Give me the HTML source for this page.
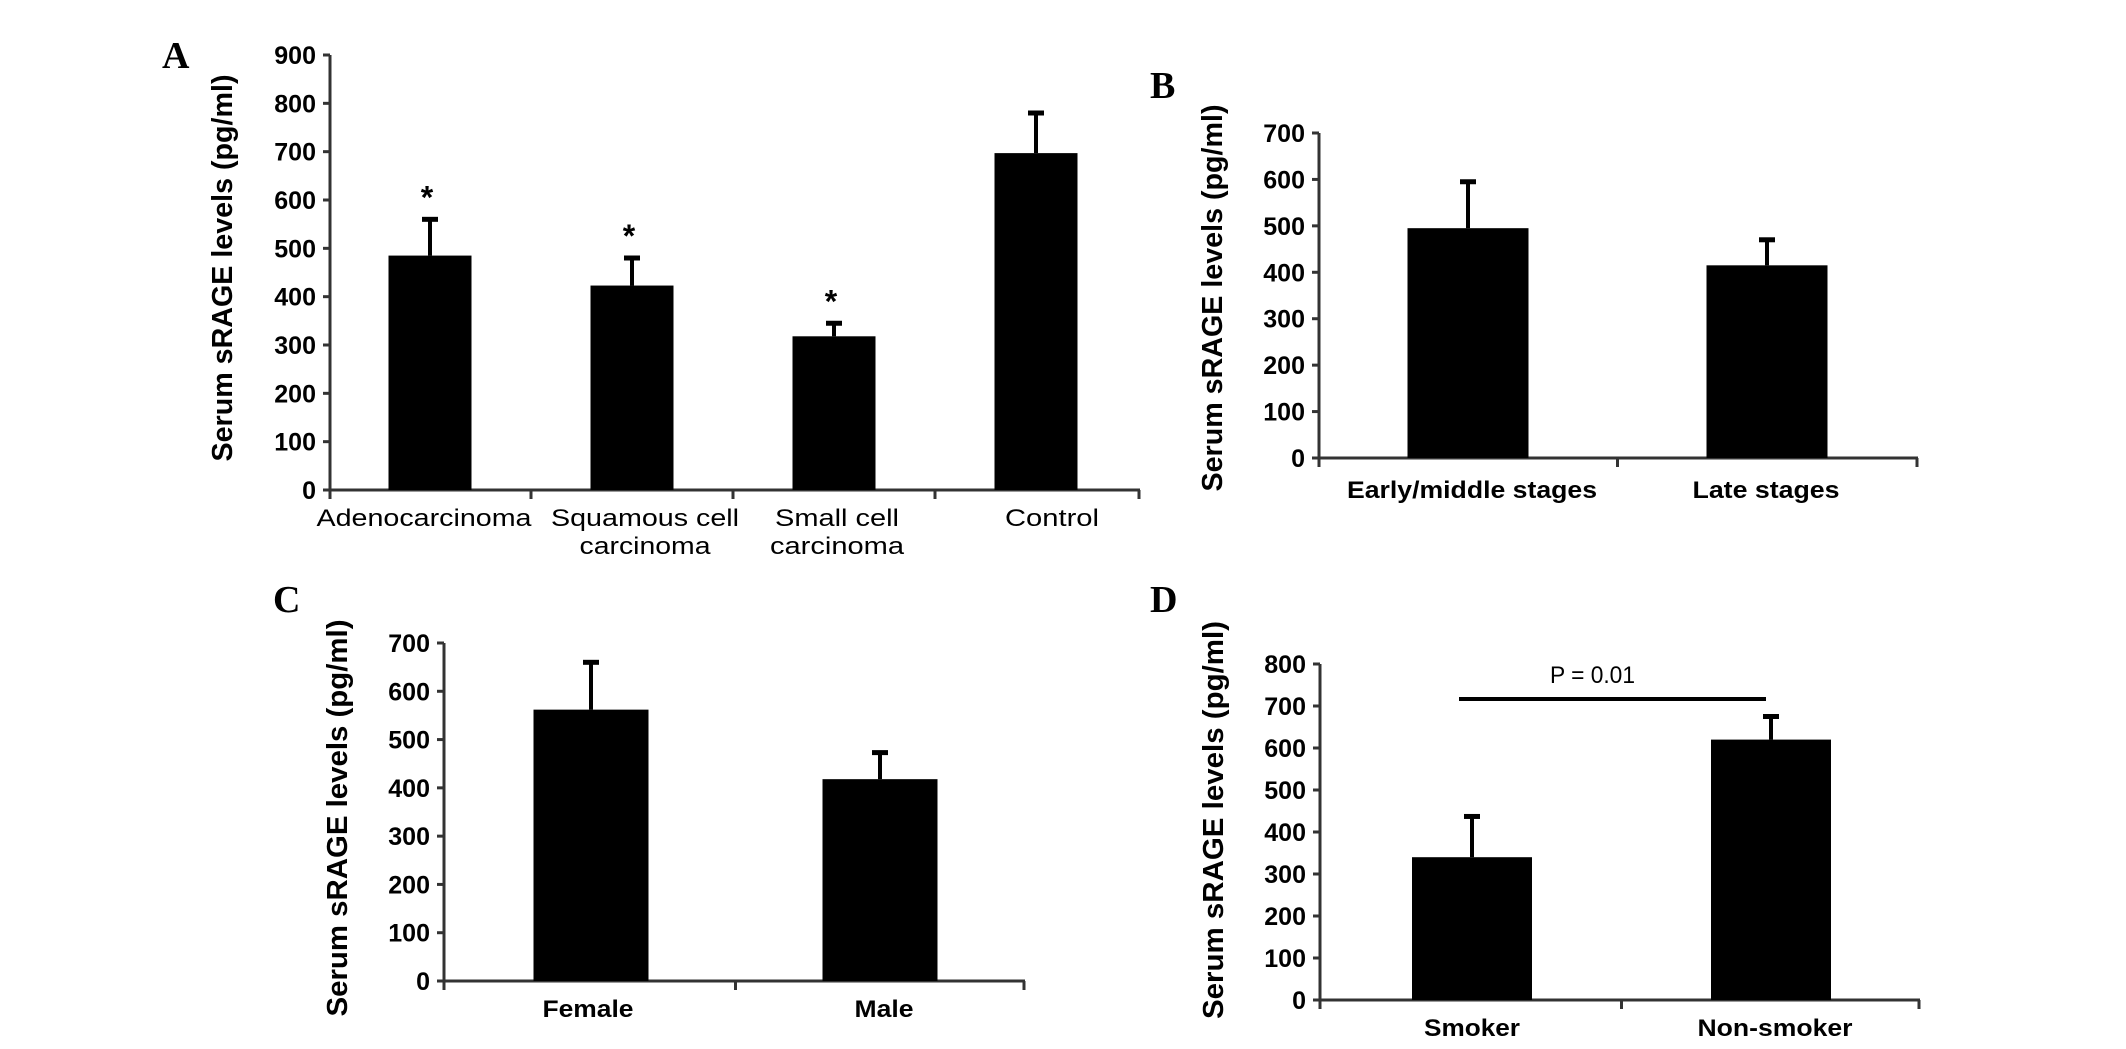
<!DOCTYPE html>
<html><head><meta charset="utf-8"><style>
html,body{margin:0;padding:0;background:#fff;}
svg{display:block;font-family:"Liberation Sans",Arial,sans-serif;}
</style></head><body>
<svg id="fig" width="2126" height="1049" viewBox="0 0 2126 1049"></svg>
<script>
// Panel A data
const catsA = ["Adenocarcinoma", "Squamous cell|carcinoma", "Small cell|carcinoma", "Control"];
const valsA = [485, 423, 318, 697];
const errA = [560, 480, 345, 780];
const sigA = [true, true, true, false];
const ticksA = [0,100,200,300,400,500,600,700,800,900];
// Panel B data
const catsB = ["Early/middle stages", "Late stages"];
const valsB = [495, 415];
const errB = [595, 470];
const ticksB = [0,100,200,300,400,500,600,700];
// Panel C data
const catsC = ["Female", "Male"];
const valsC = [562, 418];
const errC = [660, 473];
const ticksC = [0,100,200,300,400,500,600,700];
// Panel D data
const catsD = ["Smoker", "Non-smoker"];
const valsD = [340, 620];
const errD = [437, 675];
const ticksD = [0,100,200,300,400,500,600,700,800];
const pLabel = "P = 0.01";

const NS = "http://www.w3.org/2000/svg";
const svg = document.getElementById("fig");
function mk(tag, attrs, parent){
  const e = document.createElementNS(NS, tag);
  for (const k in attrs) e.setAttribute(k, attrs[k]);
  (parent||svg).appendChild(e);
  return e;
}

function panel(cfg){
  const g = mk("g", {});
  
  
  const ymax = cfg.ticks[cfg.ticks.length-1];
  const y = v => cfg.y0 - (v/ymax)*(cfg.y0 - cfg.yTop);
  const x = i => cfg.xStart + i*cfg.xStep;
  const L = mk("text", {x:cfg.lx, y:cfg.ly, "font-family":"Liberation Serif, serif", "font-weight":"bold", "font-size":38}, g);
  L.textContent = cfg.id;
  
  
  const ya = mk("line", {x1:cfg.ax, x2:cfg.ax, y1:cfg.yTop, y2:cfg.y0+9, stroke:"#333", "stroke-width":3}, g);
  
  
  cfg.ticks.forEach(t=>{
    mk("line", {x1:cfg.ax-7, x2:cfg.ax, y1:y(t), y2:y(t), stroke:"#333", "stroke-width":3}, g);
    const tl = mk("text", {x:cfg.ax-14, y:y(t)+9, "text-anchor":"end", "font-weight":"bold", "font-size":25}, g);
    tl.textContent = t;
    
    
  });
  const xa = mk("line", {x1:cfg.ax, x2:cfg.axEnd, y1:cfg.y0, y2:cfg.y0, stroke:"#333", "stroke-width":3}, g);
  
  
  for (let i=1;i<=cfg.cats.length;i++){
    const bx = i<cfg.cats.length ? (x(i-1)+x(i))/2 : cfg.axEnd-1;
    mk("line", {x1:bx, x2:bx, y1:cfg.y0, y2:cfg.y0+9, stroke:"#333", "stroke-width":3}, g);
  }
  const cy = cfg.ty;
  const yt = mk("text", {x:cfg.tx, y:cy, transform:`rotate(-90 ${cfg.tx} ${cy})`, "text-anchor":"middle", "font-weight":"bold", "font-size":29, textLength:cfg.tLen, lengthAdjust:"spacingAndGlyphs"}, g);
  yt.textContent = "Serum sRAGE levels (pg/ml)";
  
  
  cfg.cats.forEach((c,i)=>{
    const cx = x(i);
    const bw = cfg.bw;
    const eb = mk("line", {x1:cx, x2:cx, y1:y(cfg.err[i]), y2:y(cfg.vals[i]), stroke:"#000", "stroke-width":4}, g);
    
    
    mk("line", {x1:cx-8, x2:cx+8, y1:y(cfg.err[i]), y2:y(cfg.err[i]), stroke:"#000", "stroke-width":5}, g);
    const r = mk("rect", {x:cx-bw/2, y:y(cfg.vals[i]), width:bw, height:cfg.y0-y(cfg.vals[i]), fill:"#000"}, g);
    
    
    if (cfg.sig && cfg.sig[i]){
      const s = mk("text", {x:cx-3, y:y(cfg.err[i])-11, "text-anchor":"middle", "font-weight":"bold", "font-size":32}, g);
      s.textContent = "*";
      
      
    }
    const lines = c.split('|');
    lines.forEach((ln,k)=>{
      const t = mk("text", {x:cx+cfg.labOff[i], y:cfg.labY + k*28, "text-anchor":"middle", "font-weight":cfg.labBold?"bold":"normal", "font-size":24, textLength:cfg.labW[i][k], lengthAdjust:"spacingAndGlyphs"}, g);
      t.textContent = ln;
      
      
    });
  });
  return {g, x, y};
}

panel({id:"A", lx:162, ly:68, ax:330, axEnd:1140, yTop:55, y0:490, xStart:430, xStep:202, bw:83,
  ticks:ticksA, cats:catsA, vals:valsA, err:errA, sig:sigA, tx:232, ty:268, tLen:387, labY:526, labOff:[-6,13,3,16],
  labW:[[215],[188,131],[124,134],[94]], labBold:false});
panel({id:"B", lx:1150, ly:98, ax:1319, axEnd:1918, yTop:133, y0:458, xStart:1468, xStep:299, bw:121,
  ticks:ticksB, cats:catsB, vals:valsB, err:errB, tx:1222, ty:298, tLen:387, labY:498, labOff:[4,-1],
  labW:[[250],[147]], labBold:true});
panel({id:"C", lx:273, ly:612, ax:444, axEnd:1025, yTop:643, y0:981, xStart:591, xStep:289, bw:115,
  ticks:ticksC, cats:catsC, vals:valsC, err:errC, tx:347, ty:818, tLen:397, labY:1017, labOff:[-3,4],
  labW:[[91],[59]], labBold:true});
const pd = panel({id:"D", lx:1150, ly:612, ax:1320, axEnd:1920, yTop:664, y0:1000, xStart:1472, xStep:299, bw:120,
  ticks:ticksD, cats:catsD, vals:valsD, err:errD, tx:1223, ty:820, tLen:398, labY:1036, labOff:[0,4],
  labW:[[96],[155]], labBold:true});
const pl = mk("line", {x1:pd.x(0)-13, x2:pd.x(1)-5, y1:699, y2:699, stroke:"#000", "stroke-width":4}, pd.g);


const pt = mk("text", {x:(pd.x(0)+pd.x(1))/2-29, y:683, "text-anchor":"middle", "font-size":24, textLength:85, lengthAdjust:"spacingAndGlyphs"}, pd.g);
pt.textContent = pLabel;


</script>
</body></html>
